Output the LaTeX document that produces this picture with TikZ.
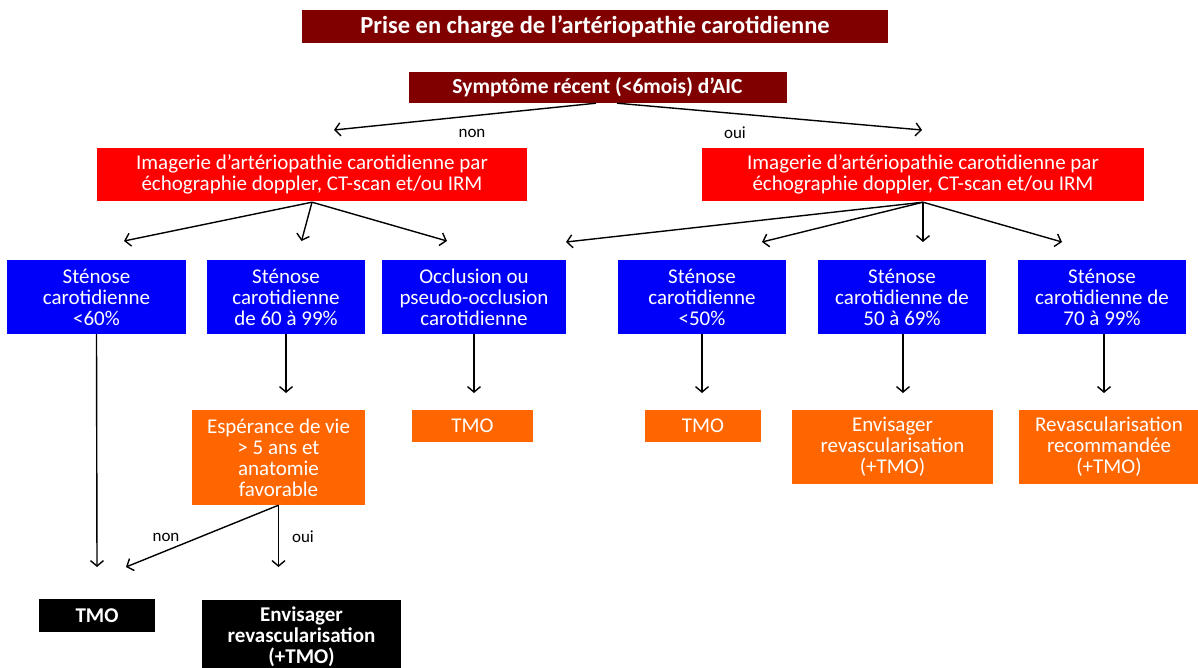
\documentclass[tikz,border=0pt]{standalone}
\usepackage{fontspec}
\setmainfont{Carlito}
\usetikzlibrary{arrows.meta}

\definecolor{bordeaux}{RGB}{128,0,0}
\definecolor{rouge}{RGB}{255,0,0}
\definecolor{bleu}{RGB}{0,0,250}
\definecolor{orangeTMO}{RGB}{255,102,0}

\begin{document}
\begin{tikzpicture}[x=1pt, y=-1pt,
	box/.style={rectangle, inner sep=0pt, align=center, text=white, font=\fontsize{21}{21}\selectfont},
	titre/.style={box, fill=bordeaux, font=\fontsize{24.5}{26}\selectfont\bfseries},
	question/.style={box, fill=bordeaux, font=\fontsize{21.5}{23}\selectfont\bfseries},
	imagerie/.style={box, fill=rouge},
	stenose/.style={box, fill=bleu},
	conduite/.style={box, fill=orangeTMO},
	decision/.style={box, fill=black, font=\fontsize{21}{21}\selectfont\bfseries},
	fleche/.style={-{Straight Barb[length=5.5pt, width=13pt, line width=1.4pt]}, line width=1.4pt},
	etiq/.style={font=\fontsize{17}{19}\selectfont}]
	\useasboundingbox (0,0) rectangle (1198,668);

	% titre et question
	\node[titre, minimum width=586pt, minimum height=33pt] (titre) at (595,26.5) {Prise en charge de l’artériopathie carotidienne};
	\node[question, minimum width=378pt, minimum height=31pt] (symp) at (597.5,87.5) {Symptôme récent (<6mois) d’AIC};

	% imagerie
	\node[imagerie, minimum width=430pt, minimum height=53pt] (imgL) at (312,174.5) {Imagerie d’artériopathie carotidienne par\\échographie doppler, CT-scan et/ou IRM};
	\node[imagerie, minimum width=442pt, minimum height=53pt] (imgR) at (923,174.5) {Imagerie d’artériopathie carotidienne par\\échographie doppler, CT-scan et/ou IRM};

	% stenoses
	\node[stenose, minimum width=179pt, minimum height=74pt] (s1) at (96.5,297) {Sténose\\carotidienne\\<60\%};
	\node[stenose, minimum width=158pt, minimum height=74pt] (s2) at (286,297) {Sténose\\carotidienne\\de 60 à 99\%};
	\node[stenose, minimum width=184pt, minimum height=74pt] (s3) at (474,297) {Occlusion ou\\pseudo-occlusion\\carotidienne};
	\node[stenose, minimum width=168pt, minimum height=74pt] (s4) at (702,297) {Sténose\\carotidienne\\<50\%};
	\node[stenose, minimum width=168pt, minimum height=74pt] (s5) at (902,297) {Sténose\\carotidienne de\\50 à 69\%};
	\node[stenose, minimum width=168pt, minimum height=74pt] (s6) at (1102,297) {Sténose\\carotidienne de\\70 à 99\%};

	% conduites
	\node[conduite, minimum width=173pt, minimum height=95pt] (esp) at (278.5,457.5) {Espérance de vie\\> 5 ans et\\anatomie\\favorable};
	\node[conduite, minimum width=121pt, minimum height=32pt] (tmo3) at (472.5,426) {TMO};
	\node[conduite, minimum width=116pt, minimum height=32pt] (tmo4) at (703,426) {TMO};
	\node[conduite, minimum width=201pt, minimum height=74pt] (env5) at (892.5,447) {Envisager\\revascularisation\\(+TMO)};
	\node[conduite, minimum width=180pt, minimum height=74pt] (rev6) at (1109,447) {Revascularisation\\recommandée\\(+TMO)};

	% decisions
	\node[decision, minimum width=116pt, minimum height=33pt] (tmo1) at (97,615.5) {TMO};
	\node[decision, minimum width=199pt, minimum height=74pt] (env2) at (301.5,637) {Envisager\\revascularisation\\(+TMO)};

	% points d'arrivee des fleches
	\coordinate (fnon) at (334,130);
	\coordinate (foui) at (922,130);
	\coordinate (f1) at (124,241);
	\coordinate (f2) at (301.5,241);
	\coordinate (f3) at (447,241);
	\coordinate (f4) at (566,242);
	\coordinate (f5) at (762,242);
	\coordinate (f6) at (923,242);
	\coordinate (f7) at (1062,242);
	\coordinate (fdec1) at (97,567);
	\coordinate (fnon2) at (126,567);
	\coordinate (foui2) at (278.5,567);

	\draw[fleche] ([xshift=-1.5pt]symp.south) -- (fnon);
	\draw[fleche] ([xshift=19.5pt]symp.south) -- (foui);
	\node[etiq] (lnon) at (472,133) {non};
	\node[etiq] (loui) at (735,133) {oui};

	\foreach \f in {f1,f2,f3}
		\draw[fleche] ([yshift=-1pt]imgL.south) -- (\f);
	\foreach \f in {f4,f5,f6,f7}
		\draw[fleche] ([yshift=-1pt]imgR.south) -- (\f);

	\draw[fleche] (s1.south) -- (fdec1);
	\draw[fleche] (s2.south) -- (s2.south |- 0,393);
	\draw[fleche] (s3.south) -- (s3.south |- 0,393);
	\draw[fleche] (s4.south) -- (s4.south |- 0,393);
	\draw[fleche] ([xshift=1pt]s5.south) -- ([xshift=1pt]s5.south |- 0,393);
	\draw[fleche] ([xshift=2pt]s6.south) -- ([xshift=2pt]s6.south |- 0,393);

	\draw[fleche] (esp.south) -- (fnon2);
	\draw[fleche] (esp.south) -- (foui2);
	\node[etiq] (lnon2) at (166,537) {non};
	\node[etiq] (loui2) at (303,537) {oui};
\end{tikzpicture}
\end{document}
